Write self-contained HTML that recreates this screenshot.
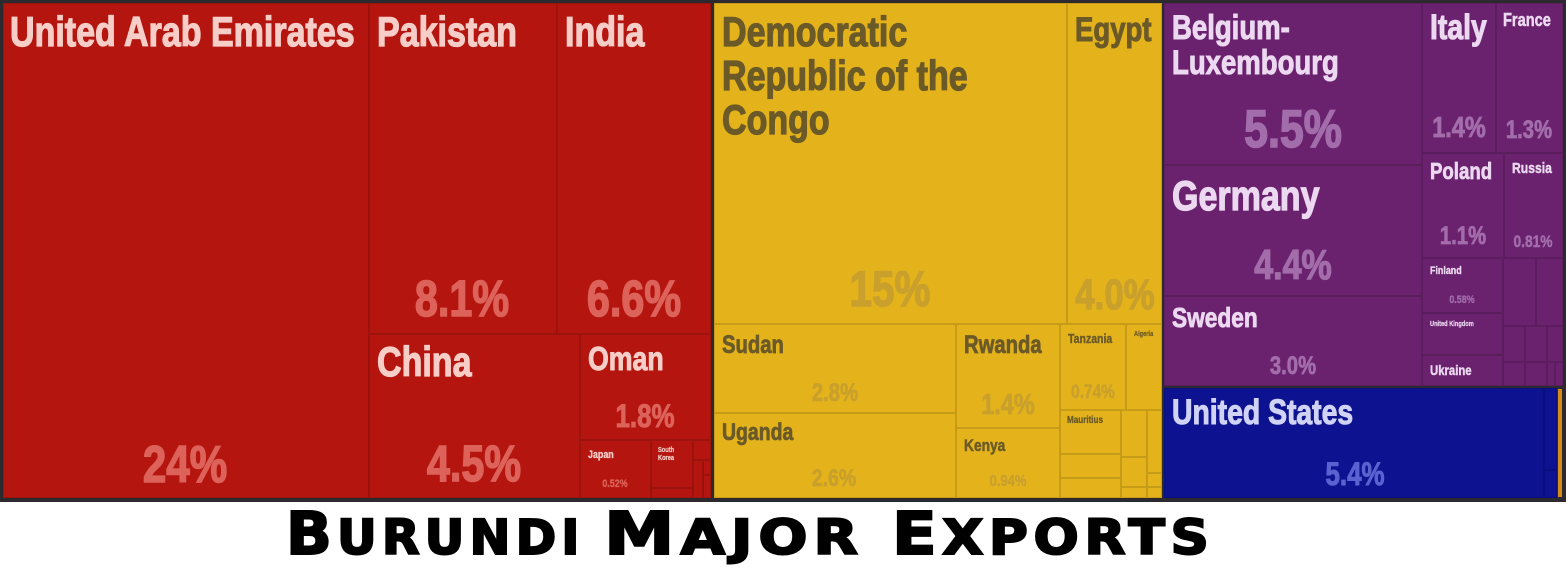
<!DOCTYPE html>
<html><head><meta charset="utf-8">
<style>
html,body{margin:0;padding:0;background:#fff;}
body{width:1566px;height:568px;position:relative;overflow:hidden;font-family:"Liberation Sans",Arial,sans-serif;}
.a{position:absolute;box-sizing:border-box;}
.bx{position:absolute;box-sizing:border-box;box-shadow:inset 0 0 0 1px rgba(0,0,0,0.13);}
.l{position:absolute;white-space:nowrap;line-height:1;font-weight:bold;transform:scaleX(.81);transform-origin:0 0;-webkit-text-stroke:.03em currentColor;}
.p{position:absolute;width:300px;text-align:center;white-space:nowrap;line-height:1;font-weight:bold;transform:scaleX(.81);-webkit-text-stroke:.03em currentColor;}
.r .l{color:#f7cdc8}.r .p{color:#dc625a}
.y .l{color:#6b5a28}.y .p{color:#c9a02b}
.v .l{color:#ecd8f0}.v .p{color:#a26daa}
.u .l{color:#d0d3f5}.u .p{color:#5a62d0}
.t{position:absolute;top:510px;white-space:nowrap;font-family:"DejaVu Sans","Liberation Sans",sans-serif;font-weight:bold;font-size:48px;line-height:48px;color:#000;letter-spacing:5px;transform-origin:0 0;-webkit-text-stroke:2px #000;}
.t span{font-size:59px;}
</style></head><body>
<div class="a" style="left:0;top:0;width:1566px;height:502px;background:#2c2a2e;"></div>

<!-- RED -->
<div class="r">
<div class="a" style="left:3px;top:3px;width:708px;height:495px;background:#b4150f;"></div>
<div class="bx" style="left:3px;top:3px;width:366px;height:495px;"></div>
<div class="bx" style="left:369px;top:3px;width:188px;height:331px;"></div>
<div class="bx" style="left:557px;top:3px;width:154px;height:331px;"></div>
<div class="bx" style="left:369px;top:334px;width:211px;height:164px;"></div>
<div class="bx" style="left:580px;top:334px;width:131px;height:106px;"></div>
<div class="bx" style="left:580px;top:440px;width:71px;height:58px;"></div>
<div class="bx" style="left:651px;top:440px;width:42px;height:48px;"></div>
<div class="bx" style="left:651px;top:488px;width:42px;height:10px;"></div>
<div class="bx" style="left:693px;top:440px;width:18px;height:20px;"></div>
<div class="bx" style="left:693px;top:460px;width:10px;height:38px;"></div>
<div class="bx" style="left:703px;top:460px;width:8px;height:15px;"></div>
<div class="bx" style="left:703px;top:475px;width:8px;height:23px;"></div>

<div class="l" style="left:10px;top:11px;font-size:42px;">United Arab Emirates</div>
<div class="l" style="left:377px;top:11px;font-size:42px;">Pakistan</div>
<div class="l" style="left:565px;top:11px;font-size:42px;">India</div>
<div class="l" style="left:377px;top:341px;font-size:42px;">China</div>
<div class="l" style="left:588px;top:342px;font-size:33px;">Oman</div>
<div class="l" style="left:588px;top:450px;font-size:11px;">Japan</div>
<div class="l" style="left:658px;top:447px;font-size:7px;line-height:8px;">South<br>Korea</div>

<div class="p" style="left:35px;top:439px;font-size:52px;">24%</div>
<div class="p" style="left:312px;top:273px;font-size:51px;">8.1%</div>
<div class="p" style="left:484px;top:273px;font-size:51px;">6.6%</div>
<div class="p" style="left:324px;top:438px;font-size:51px;">4.5%</div>
<div class="p" style="left:495px;top:400px;font-size:32px;">1.8%</div>
<div class="p" style="left:465px;top:479px;font-size:11px;">0.52%</div>
</div>

<!-- YELLOW -->
<div class="y">
<div class="a" style="left:714px;top:3px;width:448px;height:495px;background:#e4b31c;"></div>
<div class="bx" style="left:714px;top:3px;width:353px;height:321px;"></div>
<div class="bx" style="left:1067px;top:3px;width:95px;height:321px;"></div>
<div class="bx" style="left:714px;top:324px;width:242px;height:89px;"></div>
<div class="bx" style="left:714px;top:413px;width:242px;height:85px;"></div>
<div class="bx" style="left:956px;top:324px;width:104px;height:104px;"></div>
<div class="bx" style="left:956px;top:428px;width:104px;height:70px;"></div>
<div class="bx" style="left:1060px;top:324px;width:66px;height:86px;"></div>
<div class="bx" style="left:1126px;top:324px;width:36px;height:86px;"></div>
<div class="bx" style="left:1060px;top:410px;width:61px;height:44px;"></div>
<div class="bx" style="left:1060px;top:454px;width:61px;height:24px;"></div>
<div class="bx" style="left:1060px;top:478px;width:61px;height:20px;"></div>
<div class="bx" style="left:1121px;top:410px;width:26px;height:47px;"></div>
<div class="bx" style="left:1147px;top:410px;width:15px;height:63px;"></div>
<div class="bx" style="left:1121px;top:457px;width:26px;height:30px;"></div>
<div class="bx" style="left:1121px;top:487px;width:26px;height:11px;"></div>
<div class="bx" style="left:1147px;top:473px;width:15px;height:14px;"></div>
<div class="bx" style="left:1147px;top:487px;width:15px;height:11px;"></div>

<div class="l" style="left:722px;top:10px;font-size:42px;line-height:44px;">Democratic<br>Republic of the<br>Congo</div>
<div class="l" style="left:1075px;top:13px;font-size:34px;">Egypt</div>
<div class="l" style="left:722px;top:333px;font-size:25px;">Sudan</div>
<div class="l" style="left:722px;top:421px;font-size:24px;">Uganda</div>
<div class="l" style="left:964px;top:333px;font-size:25px;">Rwanda</div>
<div class="l" style="left:964px;top:437px;font-size:17px;">Kenya</div>
<div class="l" style="left:1068px;top:332px;font-size:13px;">Tanzania</div>
<div class="l" style="left:1134px;top:331px;font-size:7px;">Algeria</div>
<div class="l" style="left:1067px;top:416px;font-size:10px;">Mauritius</div>

<div class="p" style="left:740px;top:264px;font-size:50px;">15%</div>
<div class="p" style="left:965px;top:274px;font-size:43px;">4.0%</div>
<div class="p" style="left:685px;top:381px;font-size:25px;">2.8%</div>
<div class="p" style="left:684px;top:467px;font-size:24px;">2.6%</div>
<div class="p" style="left:858px;top:391px;font-size:29px;">1.4%</div>
<div class="p" style="left:858px;top:474px;font-size:16px;">0.94%</div>
<div class="p" style="left:943px;top:383px;font-size:19px;">0.74%</div>
</div>

<!-- PURPLE -->
<div class="v">
<div class="a" style="left:1164px;top:3px;width:399px;height:383px;background:#6a226e;"></div>
<div class="bx" style="left:1164px;top:3px;width:258px;height:162px;"></div>
<div class="bx" style="left:1164px;top:165px;width:258px;height:131px;"></div>
<div class="bx" style="left:1164px;top:296px;width:258px;height:90px;"></div>
<div class="bx" style="left:1422px;top:3px;width:74px;height:150px;"></div>
<div class="bx" style="left:1496px;top:3px;width:67px;height:150px;"></div>
<div class="bx" style="left:1422px;top:153px;width:82px;height:105px;"></div>
<div class="bx" style="left:1504px;top:153px;width:59px;height:105px;"></div>
<div class="bx" style="left:1422px;top:258px;width:81px;height:55px;"></div>
<div class="bx" style="left:1422px;top:313px;width:81px;height:42px;"></div>
<div class="bx" style="left:1422px;top:355px;width:81px;height:31px;"></div>
<div class="bx" style="left:1503px;top:258px;width:33px;height:68px;"></div>
<div class="bx" style="left:1536px;top:258px;width:27px;height:68px;"></div>
<div class="bx" style="left:1503px;top:326px;width:22px;height:36px;"></div>
<div class="bx" style="left:1525px;top:326px;width:22px;height:36px;"></div>
<div class="bx" style="left:1547px;top:326px;width:16px;height:36px;"></div>
<div class="bx" style="left:1503px;top:362px;width:22px;height:24px;"></div>
<div class="bx" style="left:1525px;top:362px;width:22px;height:24px;"></div>
<div class="bx" style="left:1547px;top:362px;width:8px;height:24px;"></div>
<div class="bx" style="left:1555px;top:362px;width:8px;height:24px;"></div>

<div class="l" style="left:1172px;top:11px;font-size:34px;line-height:35px;">Belgium-<br>Luxembourg</div>
<div class="l" style="left:1430px;top:10px;font-size:35px;">Italy</div>
<div class="l" style="left:1503px;top:11px;font-size:18px;">France</div>
<div class="l" style="left:1172px;top:175px;font-size:42px;">Germany</div>
<div class="l" style="left:1430px;top:160px;font-size:23px;">Poland</div>
<div class="l" style="left:1512px;top:161px;font-size:15px;">Russia</div>
<div class="l" style="left:1172px;top:304px;font-size:28px;">Sweden</div>
<div class="l" style="left:1430px;top:266px;font-size:11px;">Finland</div>
<div class="l" style="left:1430px;top:321px;font-size:7px;">United Kingdom</div>
<div class="l" style="left:1430px;top:363px;font-size:14px;">Ukraine</div>

<div class="p" style="left:1143px;top:103px;font-size:53px;">5.5%</div>
<div class="p" style="left:1143px;top:244px;font-size:42px;">4.4%</div>
<div class="p" style="left:1143px;top:354px;font-size:25px;">3.0%</div>
<div class="p" style="left:1309px;top:114px;font-size:29px;">1.4%</div>
<div class="p" style="left:1379px;top:118px;font-size:25px;">1.3%</div>
<div class="p" style="left:1313px;top:224px;font-size:25px;">1.1%</div>
<div class="p" style="left:1383px;top:233px;font-size:17px;">0.81%</div>
<div class="p" style="left:1312px;top:295px;font-size:11px;">0.58%</div>
</div>

<!-- BLUE -->
<div class="u">
<div class="a" style="left:1164px;top:388px;width:393px;height:110px;background:#0d1290;"></div>
<div class="bx" style="left:1164px;top:388px;width:380px;height:110px;"></div>
<div class="bx" style="left:1544px;top:388px;width:13px;height:82px;"></div>
<div class="bx" style="left:1544px;top:470px;width:13px;height:28px;"></div>
<div class="a" style="left:1558px;top:389px;width:4px;height:108px;background:#d68a1a;"></div>
<div class="l" style="left:1172px;top:395px;font-size:35px;">United States</div>
<div class="p" style="left:1205px;top:458px;font-size:32px;">5.4%</div>
</div>

<!-- TITLE -->
<div class="t" style="left:286px;transform:scaleX(1.02);"><span>B</span>URUNDI</div>
<div class="t" style="left:604px;transform:scaleX(1.2);"><span>M</span>AJOR</div>
<div class="t" style="left:892px;transform:scaleX(1.11);"><span>E</span>XPORTS</div>
</body></html>
